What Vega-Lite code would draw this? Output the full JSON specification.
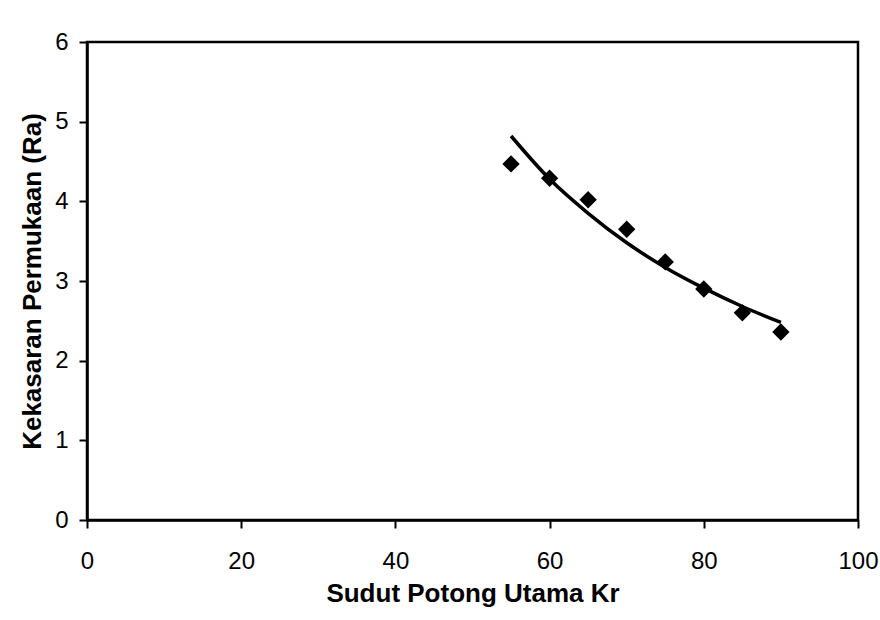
{
  "$schema": "https://vega.github.io/schema/vega-lite/v6.json",
  "width": 771,
  "height": 478,
  "autosize": {"type": "none"},
  "padding": {"left": 87, "top": 42, "right": 22, "bottom": 100},
  "background": "white",
  "config": {
    "view": {"stroke": "black", "strokeWidth": 2.5},
    "axis": {
      "grid": false,
      "labelFlush": false,
      "domainColor": "black",
      "domainWidth": 2.5,
      "tickColor": "black",
      "tickWidth": 2,
      "tickSize": 8,
      "labelFont": "Liberation Sans",
      "labelFontSize": 24,
      "labelColor": "black",
      "titleFont": "Liberation Sans",
      "titleFontWeight": "bold",
      "titleFontSize": 26,
      "titleColor": "black"
    }
  },
  "datasets": {
    "obs": [
      {"kr": 55, "ra": 4.47},
      {"kr": 60, "ra": 4.29},
      {"kr": 65, "ra": 4.02},
      {"kr": 70, "ra": 3.65},
      {"kr": 75, "ra": 3.24},
      {"kr": 80, "ra": 2.9},
      {"kr": 85, "ra": 2.6},
      {"kr": 90, "ra": 2.36}
    ],
    "trend": [
      {"kr": 55, "ra": 4.82},
      {"kr": 60, "ra": 4.28},
      {"kr": 65, "ra": 3.85},
      {"kr": 70, "ra": 3.48},
      {"kr": 75, "ra": 3.17},
      {"kr": 80, "ra": 2.91},
      {"kr": 85, "ra": 2.68},
      {"kr": 90, "ra": 2.48}
    ]
  },
  "layer": [
    {
      "data": {"name": "trend"},
      "mark": {"type": "line", "color": "black", "strokeWidth": 3.5, "interpolate": "monotone"},
      "encoding": {
        "x": {
          "field": "kr", "type": "quantitative",
          "scale": {"domain": [0, 100], "nice": false},
          "axis": {"values": [0, 20, 40, 60, 80, 100], "format": "d", "title": "Sudut Potong Utama  Kr", "labelPadding": 21, "titlePadding": 7}
        },
        "y": {
          "field": "ra", "type": "quantitative",
          "scale": {"domain": [0, 6], "nice": false},
          "axis": {"values": [0, 1, 2, 3, 4, 5, 6], "format": "d", "title": "Kekasaran Permukaan (Ra)", "labelPadding": 11, "titlePadding": 9}
        }
      }
    },
    {
      "data": {"name": "obs"},
      "mark": {"type": "point", "shape": "diamond", "filled": true, "color": "black", "size": 300, "opacity": 1},
      "encoding": {
        "x": {"field": "kr", "type": "quantitative"},
        "y": {"field": "ra", "type": "quantitative"}
      }
    }
  ]
}
